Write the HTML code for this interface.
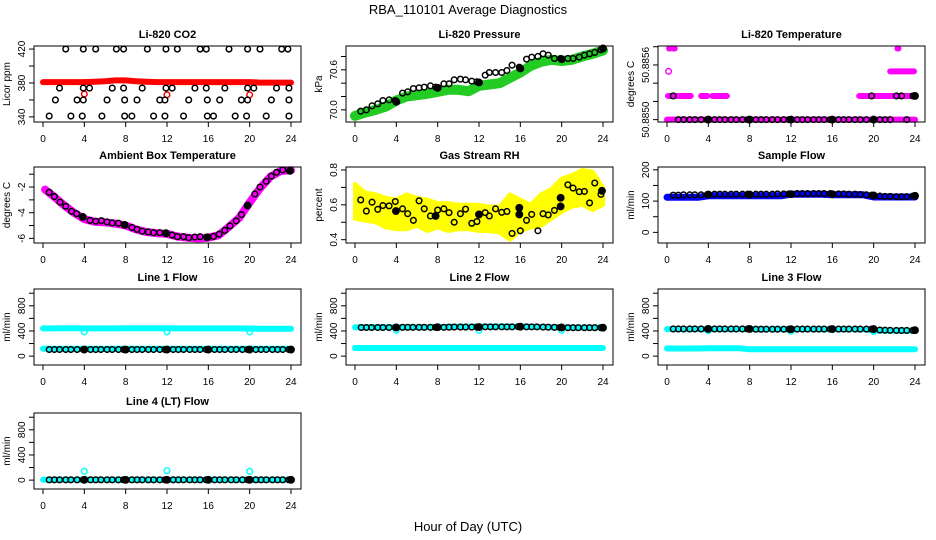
<!DOCTYPE html>
<html><head><meta charset="utf-8"><style>
html,body{margin:0;padding:0;background:#fff;}
svg{display:block;font-family:"Liberation Sans",Arial,sans-serif;}
</style></head><body>
<svg id="chart" width="936" height="540" viewBox="0 0 936 540">
<rect width="936" height="540" fill="#fff"/>
<text x="468" y="14" text-anchor="middle" font-size="13">RBA_110101  Average Diagnostics</text>
<text x="468" y="531" text-anchor="middle" font-size="13">Hour of Day (UTC)</text>
</svg>
<script>
// ---------- shared data ----------
const xTicks = [0,4,8,12,16,20,24];
const blackTimes = [0.6,1.1,1.6,2.2,2.7,3.3,3.9,4,4.6,5.1,5.6,6.2,6.7,7.3,7.8,8,8.6,9.1,9.6,10.2,10.7,11.3,11.8,12,12.6,13.1,13.6,14.2,14.7,15.2,15.8,16,16.6,17.1,17.6,18.2,18.7,19.3,19.8,20,20.6,21.1,21.6,22.2,22.7,23.2,23.8,24];
const filledTimes = [4,8,12,16,20,24];
const hours = [0,1,2,3,4,5,6,7,8,9,10,11,12,13,14,15,16,17,18,19,20,21,22,23,24];
// CO2
const co2Times = [2.2,3.9,5.1,7.1,7.8,10.1,11.9,13,15.2,15.8,18,19.8,21,23.1,23.7, 1.6,3.9,4.5,6.7,7.8,9.6,11.9,12.5,14.7,15.8,17.6,19.8,20.4,22.6,23.8, 1.2,3.3,3.9,6.2,7.9,9.1,11.3,11.8,14.1,15.9,17.1,19.2,19.8,22.1,23.8, 0.6,2.7,3.8,5.7,7.9,8.6,10.7,11.8,13.6,15.9,16.5,18.6,19.7,21.6,23.8];
const co2Vals = [420,420,420,420,420,420,420,420,420,420,420,420,420,420,420, 374,374,374,374,374,374,374,374,374,374,374,374,374,374,374, 360,360,360,360,360,360,360,360,360,360,360,360,360,360,360, 341,341,341,341,341,341,341,341,341,341,341,341,341,341,341];
const co2Red = [381,381,381,381,381,381.5,382,383,383,382,381.5,381,381,381,381,381,381,381,381,381,381,380.5,380.5,380.5,380.5];
const co2RedOutT = [4,12,20];
const co2RedOutV = [367,366,366];
// Pressure
const presTimes = [0.55,1.1,1.65,2.2,2.7,3.3,3.9,4,4.6,5.1,5.65,6.2,6.7,7.3,7.8,8,8.6,9.1,9.6,10.2,10.7,11.3,11.8,12,12.6,13,13.6,14.2,14.7,15.2,15.9,16,16.6,17.1,17.7,18.2,18.7,19.3,19.9,20,20.6,21.1,21.7,22.2,22.7,23.2,23.8,24];
const presVals = [69.98,70.0,70.06,70.09,70.14,70.15,70.14,70.12,70.25,70.27,70.32,70.33,70.34,70.36,70.34,70.33,70.39,70.39,70.45,70.46,70.45,70.43,70.42,70.41,70.52,70.56,70.56,70.56,70.59,70.67,70.64,70.62,70.76,70.79,70.8,70.84,70.82,70.77,70.77,70.76,70.77,70.77,70.79,70.82,70.84,70.86,70.9,70.92];
const presGreen = [69.91,69.96,70.0,70.05,70.14,70.2,70.22,70.24,70.27,70.3,70.3,70.28,70.36,70.38,70.4,70.48,70.56,70.66,70.72,70.75,70.73,70.75,70.8,70.84,70.89];
// Li-820 temperature
const tempBlack = [50.88526,50.8850,50.8850,50.8850,50.8850,50.8850,50.8850,50.8850,50.8850,50.8850,50.8850,50.8850,50.8850,50.8850,50.8850,50.8850,50.8850,50.8850,50.8850,50.8850,50.8850,50.8850,50.8850,50.8850,50.8850,50.8850,50.8850,50.8850,50.8850,50.8850,50.8850,50.8850,50.8850,50.8850,50.8850,50.8850,50.8850,50.8850,50.88526,50.8850,50.8850,50.8850,50.8850,50.88526,50.88526,50.8850,50.88526,50.88526];
const tempSegStart = [0.0,0.1,3.3,4.4,18.6,21.6,0.2,0.6,22.3];
const tempSegEnd = [24,2.3,3.9,5.8,24,23.9,0.3,0.75,22.4];
const tempSegVal = [50.8850,50.88526,50.88526,50.88526,50.88526,50.88553,50.88578,50.88578,50.88578];
const tempPtT = [0.15];
const tempPtV = [50.88553];
// Ambient box temperature
const ambTimes = [0.6,1.1,1.65,2.2,2.75,3.26,3.85,4.55,5.1,5.65,6.2,6.7,7.3,7.9,8.6,9.1,9.6,10.2,10.7,11.3,11.9,12.5,13,13.6,14.1,14.7,15.2,15.9,16.5,17.05,17.6,18.1,18.7,19.2,19.8,20.5,21,21.6,22.1,22.6,23.2,23.9];
const ambVals = [-2.41,-2.74,-3.18,-3.5,-3.9,-4.08,-4.33,-4.6,-4.67,-4.62,-4.72,-4.8,-4.82,-4.95,-5.15,-5.3,-5.44,-5.5,-5.56,-5.56,-5.6,-5.74,-5.87,-5.87,-5.95,-5.9,-5.87,-5.92,-5.85,-5.67,-5.38,-5.03,-4.64,-4.15,-3.44,-2.54,-2.0,-1.56,-1.15,-0.85,-0.67,-0.74];
const ambFilledT = [3.85,7.9,11.9,15.9,19.8,23.9];
const ambBandT = [0.2,1,2,3,4,5,6,7,8,9,10,11,12,13,14,15,16,17,18,19,20,21,22,23,24];
const ambBand = [-2.2,-2.7,-3.4,-4.0,-4.5,-4.7,-4.75,-4.85,-5.0,-5.3,-5.5,-5.6,-5.65,-5.85,-5.95,-6.0,-5.95,-5.75,-5.1,-4.4,-3.2,-2.1,-1.2,-0.75,-0.7];
// Gas stream RH
const rhTimes = [0.55,1.1,1.65,2.2,2.7,3.3,3.9,3.96,4.6,5.1,5.65,6.2,6.7,7.3,7.8,8,8.6,9.1,9.6,10.2,10.7,11.3,11.8,12,12.6,13,13.6,14.2,14.7,15.2,15.9,15.9,16,16.6,17.1,17.7,18.2,18.7,19.3,19.9,19.9,20.6,21.1,21.7,22.2,22.7,23.2,23.8,23.9];
const rhVals = [0.628,0.564,0.615,0.574,0.596,0.594,0.619,0.564,0.577,0.549,0.511,0.623,0.577,0.536,0.536,0.57,0.577,0.555,0.5,0.549,0.575,0.494,0.504,0.545,0.555,0.536,0.577,0.557,0.562,0.436,0.583,0.545,0.451,0.511,0.545,0.451,0.549,0.542,0.568,0.591,0.64,0.715,0.696,0.675,0.677,0.611,0.725,0.66,0.68];
const rhUpper = [0.72,0.67,0.66,0.64,0.63,0.66,0.64,0.63,0.61,0.61,0.6,0.6,0.6,0.59,0.59,0.66,0.63,0.6,0.66,0.69,0.75,0.77,0.8,0.79,0.7];
const rhLower = [0.52,0.51,0.5,0.47,0.46,0.46,0.48,0.45,0.47,0.45,0.46,0.46,0.45,0.45,0.44,0.4,0.45,0.47,0.48,0.52,0.56,0.59,0.6,0.57,0.6];
// Sample flow
const sampleBlack = [119,119,120,120,120,120,121,121,122,122,122,122,122,122,122,121,122,122,122,122,123,123,123,122,124,124,124,124,124,124,124,122,123,123,122,122,121,120,119,118,116,115,115,114,114,114,116,117];
const sampleBand = [112,112,112,112,117,117,117,117,117,117,117,117,122,122,122,122,120,120,120,120,113,113,113,113,113];
// Line flows
const line1Black = [105,105,105,105,105,105,105,105,105,105,105,105,105,105,105,105,105,105,105,105,105,105,105,105,105,105,105,105,105,105,105,105,105,105,105,105,105,105,105,105,105,105,105,105,105,105,105,105];
const line1Upper = [440,440,442,442,440,440,440,440,442,442,442,442,442,440,440,440,440,440,440,440,438,436,436,436,436];
const line1Lower = [118,118,118,118,118,118,118,118,118,118,118,118,118,118,118,118,118,118,118,118,118,118,118,118,118];
const line1OutV = [385,385,385];
const line2Black = [455,455,455,455,455,455,455,455,458,458,458,458,458,458,458,460,458,460,462,462,462,462,462,462,465,465,465,465,465,465,468,468,465,465,465,462,460,458,455,455,452,452,452,452,452,452,452,452];
const line2Upper = [460,460,460,460,460,460,460,460,462,465,470,470,470,470,470,470,470,468,465,460,455,455,455,455,455];
const line2Lower = [130,130,130,130,130,130,130,130,130,130,130,130,130,130,130,130,130,130,130,130,130,130,130,130,130];
const line2OutV = [410,410,410];
const line3Black = [432,432,432,432,432,432,432,432,432,432,432,432,432,432,432,432,428,428,428,428,428,428,428,428,430,430,430,430,430,430,430,430,430,430,430,430,430,430,430,430,415,412,410,408,408,408,410,412];
const line3Upper = [430,430,430,430,430,430,430,430,428,426,426,426,426,428,428,428,428,428,428,428,405,405,405,405,405];
const line3Lower = [122,122,122,122,125,125,125,125,108,108,108,108,108,108,108,108,110,110,110,110,108,108,108,108,108];
const line3OutV = [405,395,390];
const line4Black = [5,5,5,5,5,5,5,5,5,5,5,5,5,5,5,5,5,5,5,5,5,5,5,5,5,5,5,5,5,5,5,5,5,5,5,5,5,5,5,5,5,5,5,5,5,5,5,5];
const line4Band = [5,5,5,5,5,5,5,5,5,5,5,5,5,5,5,5,5,5,5,5,5,5,5,5,5];
const line4OutV = [140,150,140];
const outTimes = [4,12,20];

// ---------- layout ----------
const NS = "http://www.w3.org/2000/svg";
const svg = document.getElementById('chart');
const colX0 = [43,355,667];
const colW = 248;
const rowTop = [46,167,289,413];
const boxH = 76;
function mk(tag, attrs, parent){
  const e = document.createElementNS(NS, tag);
  for (const k in attrs) e.setAttribute(k, attrs[k]);
  (parent||svg).appendChild(e);
  return e;
}
function panel(col,row,title,ylab,ymin,ymax,yticks,ylabels,name){
  const g = mk('g',{});
  
  
  const x0 = colX0[col], top = rowTop[row], bot = top+boxH;
  const bl = x0-9, br = x0+colW+10;
  const sx = t => x0 + t/24*colW;
  const sy = v => bot - (v-ymin)/(ymax-ymin)*boxH;
  const plot = mk('g',{},g);
  
  
  const box = mk('rect',{x:bl,y:top,width:br-bl,height:boxH,fill:'none',stroke:'#000','stroke-width':1},g);
  
  
  const tt = mk('text',{x:(bl+br)/2,y:top-8,'text-anchor':'middle','font-size':11,'font-weight':'bold'},g);
  tt.textContent = title;
  
  
  const yl = mk('text',{x:0,y:0,'text-anchor':'middle','font-size':10,transform:`translate(${bl-24},${(top+bot)/2}) rotate(-90)`},g);
  yl.textContent = ylab;
  
  
  const xa = mk('g',{},g);
  
  
  mk('line',{x1:sx(0),x2:sx(24),y1:bot,y2:bot,stroke:'#000'},xa);
  xTicks.forEach(t=>{
    mk('line',{x1:sx(t),x2:sx(t),y1:bot,y2:bot+5,stroke:'#000'},xa);
    const l = mk('text',{x:sx(t),y:bot+20,'text-anchor':'middle','font-size':10},xa);
    l.textContent = t;
    
    
  });
  const ya = mk('g',{},g);
  
  
  mk('line',{x1:bl,x2:bl,y1:sy(yticks[0]),y2:sy(yticks[yticks.length-1]),stroke:'#000'},ya);
  yticks.forEach((v,i)=>{
    mk('line',{x1:bl-5,x2:bl,y1:sy(v),y2:sy(v),stroke:'#000'},ya);
    if (ylabels[i]!==''){
      const l = mk('text',{x:0,y:0,'text-anchor':'middle','font-size':10,transform:`translate(${bl-9},${sy(v)}) rotate(-90)`},ya);
      l.textContent = ylabels[i];
      
      
    }
  });
  return {plot,sx,sy};
}
function band(p,ts,vs,color,w,name){
  const pts = ts.map((t,i)=>p.sx(t).toFixed(1)+','+p.sy(vs[i]).toFixed(1)).join(' ');
  const e = mk('polyline',{points:pts,fill:'none',stroke:color,'stroke-width':w,'stroke-linejoin':'round','stroke-linecap':'round'},p.plot);
  
  
}
function area(p,ts,lo,hi,color,name){
  const a = ts.map((t,i)=>p.sx(t).toFixed(1)+','+p.sy(hi[i]).toFixed(1));
  const b = ts.map((t,i)=>p.sx(t).toFixed(1)+','+p.sy(lo[i]).toFixed(1)).reverse();
  const e = mk('polygon',{points:a.concat(b).join(' '),fill:color,stroke:color,'stroke-width':4,'stroke-linejoin':'round'},p.plot);
  
  
}
function pts(p,ts,vs,color,name,filled){
  ts.forEach((t,i)=>{
    const f = filled && filled.indexOf(t)>=0;
    const c = mk('circle',{cx:p.sx(t),cy:p.sy(vs[i]),r:f?3.2:2.8,fill:f?color:'none',stroke:color,'stroke-width':1.5},p.plot);
    
    
  });
}
function segs(p,s,e,v,color,name){
  s.forEach((st,i)=>{
    const l = mk('line',{x1:p.sx(st),x2:p.sx(e[i]),y1:p.sy(v[i]),y2:p.sy(v[i]),stroke:color,'stroke-width':6,'stroke-linecap':'round'},p.plot);
    
    
  });
}

let p = panel(0,0,'Li-820 CO2','Licor ppm',334,423.6,[340,360,380,400,420],['340','','380','','420'],'co2');
band(p,hours,co2Red,'#ff0000',6,'co2-red-band');
pts(p,co2RedOutT,co2RedOutV,'#ff0000','co2-red-point');
pts(p,co2Times,co2Vals,'#000','co2-point');

p = panel(1,0,'Li-820 Pressure','kPa',69.818,70.957,[70.0,70.2,70.4,70.6,70.8],['70.0','','','70.6',''],'pressure');
band(p,hours,presGreen,'#22cc22',10,'pressure-green-band');
pts(p,presTimes,presVals,'#000','pressure-point',filledTimes);

p = panel(2,0,'Li-820 Temperature','degrees C',50.884974,50.885808,[50.8850,50.8852,50.8854,50.8856,50.8858],['50.8850','','','50.8856',''],'li820-temp');
segs(p,tempSegStart,tempSegEnd,tempSegVal,'#ff00ff','temp-magenta-band');
pts(p,tempPtT,tempPtV,'#ff00ff','temp-magenta-point');
pts(p,blackTimes,tempBlack,'#000','temp-point',filledTimes);

p = panel(0,1,'Ambient Box Temperature','degrees C',-6.36,-0.44,[-6,-5,-4,-3,-2,-1],['-6','','-4','','-2',''],'ambient');
band(p,ambBandT,ambBand,'#ff00ff',8,'ambient-magenta-band');
pts(p,ambTimes,ambVals,'#000','ambient-point',ambFilledT);

p = panel(1,1,'Gas Stream RH','percent',0.381,0.817,[0.4,0.5,0.6,0.7,0.8],['0.4','','0.6','','0.8'],'rh');
area(p,hours,rhLower,rhUpper,'#ffff00','rh-yellow-cloud');
pts(p,rhTimes,rhVals,'#000','rh-point',[3.96,7.8,12,15.9,19.9,23.9]);

p = panel(2,1,'Sample Flow','ml/min',-34,209,[0,50,100,150,200],['0','','100','','200'],'sample-flow');
band(p,hours,sampleBand,'#0000ff',7,'sample-blue-band');
pts(p,blackTimes,sampleBlack,'#000','sample-point',filledTimes);

const fy = [0,200,400,600,800,1000], fl = ['0','','400','','800',''];
p = panel(0,2,'Line 1 Flow','ml/min',-141,1067,fy,fl,'line1');
band(p,hours,line1Upper,'#00ffff',6,'line1-cyan-upper');
band(p,hours,line1Lower,'#00ffff',6,'line1-cyan-lower');
pts(p,outTimes,line1OutV,'#00ffff','line1-cyan-point');
pts(p,blackTimes,line1Black,'#000','line1-point',filledTimes);
p = panel(1,2,'Line 2 Flow','ml/min',-141,1067,fy,fl,'line2');
band(p,hours,line2Upper,'#00ffff',6,'line2-cyan-upper');
band(p,hours,line2Lower,'#00ffff',6,'line2-cyan-lower');
pts(p,outTimes,line2OutV,'#00ffff','line2-cyan-point');
pts(p,blackTimes,line2Black,'#000','line2-point',filledTimes);
p = panel(2,2,'Line 3 Flow','ml/min',-141,1067,fy,fl,'line3');
band(p,hours,line3Upper,'#00ffff',6,'line3-cyan-upper');
band(p,hours,line3Lower,'#00ffff',6,'line3-cyan-lower');
pts(p,outTimes,line3OutV,'#00ffff','line3-cyan-point');
pts(p,blackTimes,line3Black,'#000','line3-point',filledTimes);
p = panel(0,3,'Line 4 (LT) Flow','ml/min',-141,1067,fy,fl,'line4');
band(p,hours,line4Band,'#00ffff',6,'line4-cyan-band');
pts(p,outTimes,line4OutV,'#00ffff','line4-cyan-point');
pts(p,blackTimes,line4Black,'#000','line4-point',filledTimes);
</script>
</body></html>
